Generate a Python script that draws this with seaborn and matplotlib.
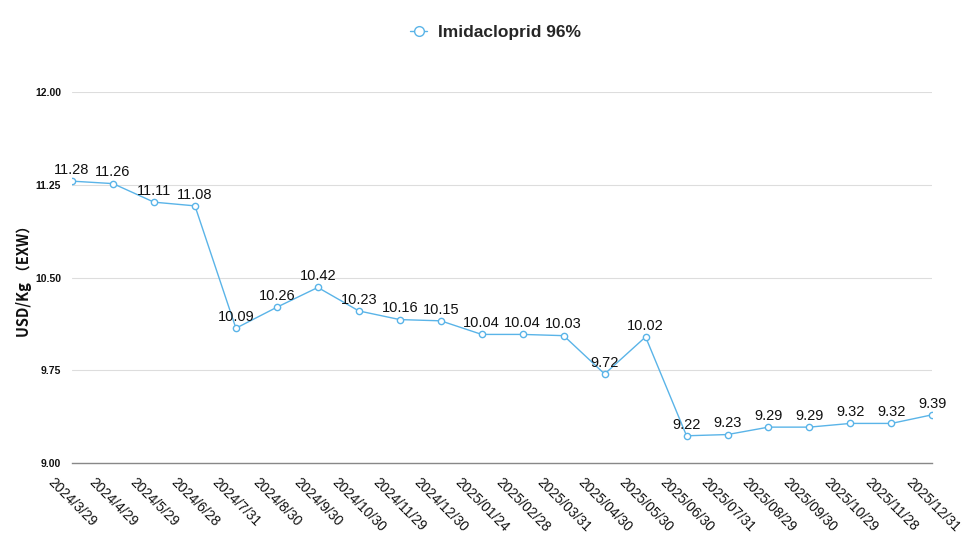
import matplotlib
matplotlib.use("Agg")
import matplotlib.pyplot as plt
import seaborn as sns
import pandas as pd

dates = ["2024/3/29", "2024/4/29", "2024/5/29", "2024/6/28", "2024/7/31", "2024/8/30",
         "2024/9/30", "2024/10/30", "2024/11/29", "2024/12/30", "2025/01/24", "2025/02/28",
         "2025/03/31", "2025/04/30", "2025/05/30", "2025/06/30", "2025/07/31", "2025/08/29",
         "2025/09/30", "2025/10/29", "2025/11/28", "2025/12/31"]
prices = [11.28, 11.26, 11.11, 11.08, 10.09, 10.26, 10.42, 10.23, 10.16, 10.15, 10.04, 10.04,
          10.03, 9.72, 10.02, 9.22, 9.23, 9.29, 9.29, 9.32, 9.32, 9.39]
series_name = "Imidacloprid 96%"
yticks = [9.00, 9.75, 10.50, 11.25, 12.00]

sns.set_theme(style="white")
plt.rcParams['font.family'] = ['Liberation Sans', 'DejaVu Sans']

df = pd.DataFrame({"date": dates, "price": prices, "idx": range(len(dates))})

fig = plt.figure(figsize=(9.71, 5.42), dpi=100)
ax = fig.add_axes([0.0742, 0.1458, 0.886, 0.6842])

color = "#5ab4e8"
sns.lineplot(data=df, x="idx", y="price", ax=ax, color=color, linewidth=1.0,
             marker="o", markersize=4.5, markerfacecolor="white",
             markeredgecolor=color, markeredgewidth=1.0, label=series_name)

for i, v in zip(df["idx"], df["price"]):
    ax.annotate(f"{v:.2f}", (i, v), xytext=(0, 3), textcoords="offset points",
                ha="center", va="bottom", fontsize=10.5, color="#111111")

ax.set_xlim(0, len(dates) - 1)
ax.set_ylim(9, 12)
ax.set_yticks(yticks)
ax.set_yticklabels([f"{t:.2f}" for t in yticks], fontsize=7.5, fontweight="bold")
ax.tick_params(axis="y", length=0, pad=8, labelcolor="#111111")
ax.set_xticks(list(df["idx"]))
ax.set_xticklabels(dates, rotation=-45, ha="center", fontsize=10, color="#111111")
ax.tick_params(axis="x", length=0, pad=9)
ax.grid(axis="y", color="#dddddd", linewidth=0.8)
ax.grid(axis="x", visible=False)
for s in ["left", "right", "top"]:
    ax.spines[s].set_visible(False)
ax.spines["bottom"].set_color("#888888")
ax.spines["bottom"].set_linewidth(1.0)
ax.set_xlabel("")
ax.set_ylabel("USD/Kg （EXW）", fontsize=10.5, fontweight="bold", color="#111111",
              family=["Noto Sans CJK SC", "DejaVu Sans"])
ax.yaxis.set_label_coords(-0.046, 0.5)

leg = ax.legend(loc="center", bbox_to_anchor=(0.492, 1.16), frameon=False,
                prop={"size": 12.5, "weight": "bold"}, handlelength=1.0, handletextpad=0.6)
for h in leg.get_lines():
    h.set_linewidth(1.0)
    h.set_markersize(7)

fig.savefig("out.png", dpi=100)
